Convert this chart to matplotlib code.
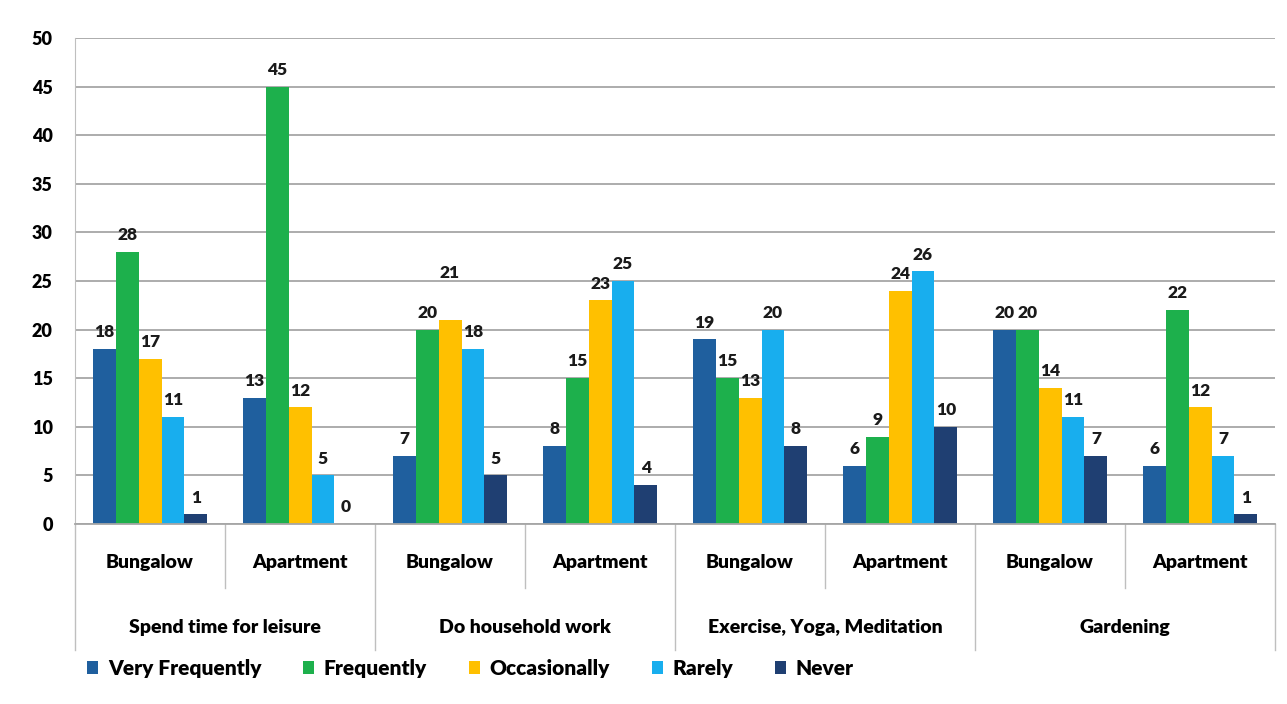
import matplotlib.pyplot as plt
import matplotlib.transforms as mtransforms
from matplotlib.patches import Patch
import numpy as np

plt.rcParams['font.family'] = ['Lato', 'DejaVu Sans']

activities = ["Spend time for leisure", "Do household work",
              "Exercise, Yoga, Meditation", "Gardening"]
housing = ["Bungalow", "Apartment"]
series = ["Very Frequently", "Frequently", "Occasionally", "Rarely", "Never"]

# one list per response, ordered by activity then Bungalow/Apartment
very_frequently = [18, 13, 7, 8, 19, 6, 20, 6]
frequently = [28, 45, 20, 15, 15, 9, 20, 22]
occasionally = [17, 12, 21, 23, 13, 24, 14, 12]
rarely = [11, 5, 18, 25, 20, 26, 11, 7]
never = [1, 0, 5, 4, 8, 10, 7, 1]

colors = ["#1F5F9E", "#1DB04C", "#FFC000", "#18AEEE", "#1F3F72"]

fig = plt.figure(figsize=(12.87, 7.04), dpi=100)
ax = fig.add_axes([0.0583, 0.2557, 0.9324, 0.6903])

values = [very_frequently, frequently, occasionally, rarely, never]
n = len(very_frequently)
x = np.arange(n)
w = 0.153
for k, (vals, c) in enumerate(zip(values, colors)):
    xs = x + (k - 2) * w
    ax.bar(xs, vals, width=w, color=c, zorder=3)
    for xi, v in zip(xs, vals):
        # lift the one label that would sit on top of its neighbour
        off = 4.0 if (k == 2 and v == 21) else 0.9
        ax.text(xi, v + off, str(v), ha='center', va='bottom',
                fontsize=12.5, fontweight='heavy', color='#1A1A1A')

ax.set_xlim(-0.5, n - 0.5)
ax.set_ylim(0, 50)
ax.set_yticks(range(0, 51, 5))
ax.yaxis.grid(True, color='#A6A6A6', linewidth=1.3, zorder=0)
ax.tick_params(axis='y', length=0, pad=16, labelsize=13)
for lab in ax.get_yticklabels():
    lab.set_fontweight('heavy')
ax.set_xticks([])
for s in ['top', 'right', 'bottom']:
    ax.spines[s].set_visible(False)
ax.spines['left'].set_color('#BFBFBF')

# two-level category axis
trans = mtransforms.blended_transform_factory(ax.transData, ax.transAxes)
ax.plot([-0.5, n - 0.5], [0, 0], color='#A6A6A6', lw=1.3, transform=trans,
        clip_on=False, zorder=4)
for b in range(n + 1):
    xb = b - 0.5
    y_end = -0.259 if b % 2 == 0 else -0.132
    ax.plot([xb, xb], [0, y_end], color='#BFBFBF', lw=1.0,
            transform=trans, clip_on=False)
for i in range(n):
    ax.text(i, -0.080, housing[i % 2], ha='center', va='center',
            fontsize=14, fontweight='heavy', transform=trans)
for j, name in enumerate(activities):
    ax.text(2 * j + 0.5, -0.214, name, ha='center', va='center',
            fontsize=14, fontweight='heavy', transform=trans)

handles = [Patch(facecolor=c, label=s) for s, c in zip(series, colors)]
fig.legend(handles=handles, loc='center left', bbox_to_anchor=(0.053, 0.051),
           ncol=5, frameon=False, handlelength=0.55, handleheight=0.55,
           handletextpad=0.45, columnspacing=2.0,
           prop={'size': 15, 'weight': 'heavy'})

fig.savefig("out.png", dpi=100, facecolor='white')
